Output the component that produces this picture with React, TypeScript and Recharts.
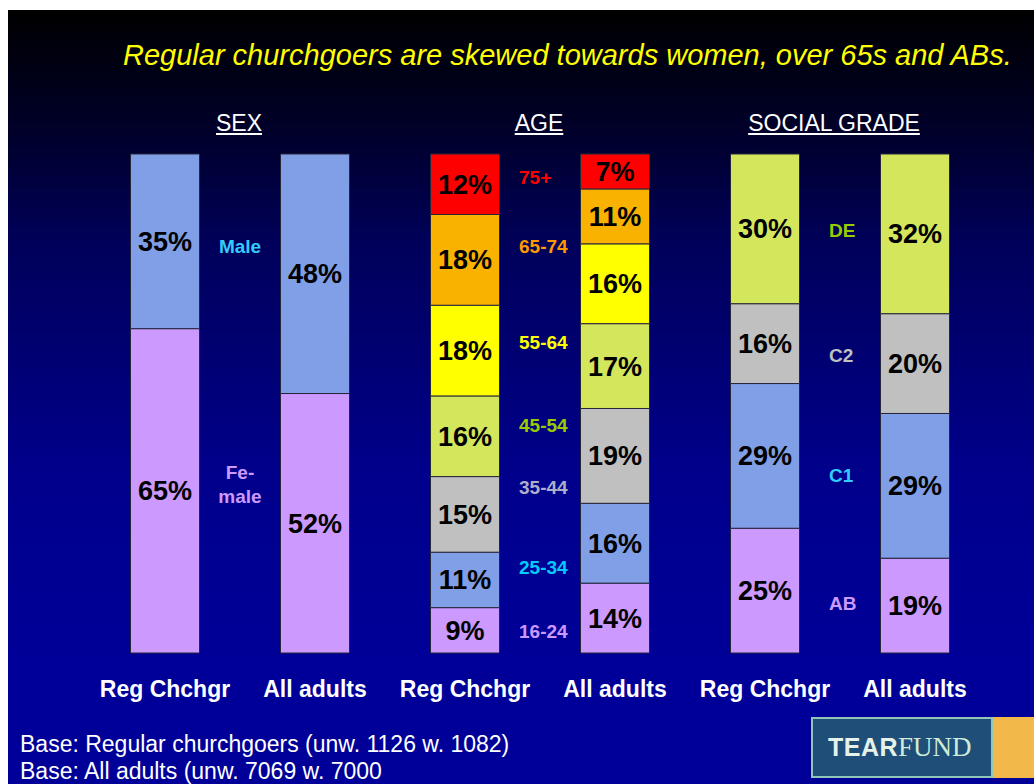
import { BarChart, Bar, XAxis, YAxis, LabelList, ReferenceDot } from "recharts";

// bar order on the axis (mid = label column between the two bars, gap = empty)
const categories = [
  "sexReg", "sexMid", "sexAll", "gapA",
  "ageReg", "ageMid", "ageAll", "gapB",
  "socReg", "socMid", "socAll",
];
const tickNames: Record<string, string> = {
  sexReg: "Reg Chchgr", sexAll: "All adults",
  ageReg: "Reg Chchgr", ageAll: "All adults",
  socReg: "Reg Chchgr", socAll: "All adults",
};

// segment values, bottom to top
const sexReg = [65, 35];
const sexAll = [52, 48];
const ageReg = [9, 11, 15, 16, 18, 18, 12];
const ageAll = [14, 16, 19, 17, 16, 11, 7];
const socReg = [25, 29, 16, 30];
const socAll = [19, 29, 20, 32];

// segment names shown between the bars, and where they sit (share of bar height)
const sexLabels = ["Fe-\nmale", "Male"];
const sexLabelAt = [0.337, 0.814];
const ageLabels = ["16-24", "25-34", "35-44", "45-54", "55-64", "65-74", "75+"];
const ageLabelAt = [0.043, 0.172, 0.331, 0.457, 0.623, 0.814, 0.954];
const socLabels = ["AB", "C1", "C2", "DE"];
const socLabelAt = [0.1, 0.357, 0.597, 0.846];

const segKeys = ["s1", "s2", "s3", "s4", "s5", "s6", "s7"];
const segFills = ["#CC99FF", "#809FE6", "#C0C0C0", "#D4E65C", "#FFFF00", "#F9B200", "#FF0000"];
const sexLabelColors = ["#CC99FF", "#33CCFF"];
const ageLabelColors = ["#CC99FF", "#00CCFF", "#AEAEC8", "#99CC00", "#FFFF00", "#FF9900", "#FF0000"];
const socLabelColors = ["#CC99FF", "#33CCFF", "#C0C0C0", "#99CC00"];

const barValues: Record<string, number[]> = { sexReg, sexAll, ageReg, ageAll, socReg, socAll };

const rows = categories.map((id) => {
  const row: Record<string, any> = { id };
  (barValues[id] ?? []).forEach((v, i) => {
    row[segKeys[i]] = v;
  });
  return row;
});

const midLabels = [
  ...sexLabels.map((t, i) => ({ x: "sexMid", y: sexLabelAt[i], text: t, color: sexLabelColors[i], anchor: "middle", dx: 0 })),
  ...ageLabels.map((t, i) => ({ x: "ageMid", y: ageLabelAt[i], text: t, color: ageLabelColors[i], anchor: "start", dx: -21 })),
  ...socLabels.map((t, i) => ({ x: "socMid", y: socLabelAt[i], text: t, color: socLabelColors[i], anchor: "start", dx: -11 })),
];

const FONT = "'Liberation Sans', Arial, sans-serif";

function CatTick(props: any) {
  const { x, y, payload } = props;
  const name = tickNames[payload.value];
  if (!name) return <g />;
  return (
    <text x={x} y={y + 44} textAnchor="middle" fill="#fff" fontSize={23} fontWeight="bold">
      {name}
    </text>
  );
}

function MidText({ cx, cy, text, color, anchor, dx }: any) {
  const lines = text.split("\n");
  const lh = 24;
  const top = cy - ((lines.length - 1) * lh) / 2;
  return (
    <text textAnchor={anchor} fill={color} fontSize={19} fontWeight="bold">
      {lines.map((l: string, i: number) => (
        <tspan key={i} x={cx + dx} y={top + i * lh} dy="0.35em">
          {l}
        </tspan>
      ))}
    </text>
  );
}

const groupTitles = [
  { text: "SEX", x: 239 },
  { text: "AGE", x: 539 },
  { text: "SOCIAL GRADE", x: 834 },
];

export default function App() {
  return (
    <div style={{ position: "absolute", left: 0, top: 0, width: 1034, height: 784, background: "#fff", overflow: "hidden", fontFamily: FONT }}>
      <div
        style={{
          position: "absolute", left: 8, top: 10, right: 0, bottom: 0,
          background: "linear-gradient(to bottom, #000000 0%, #00002E 17%, #00005A 30%, #00008C 60%, #000099 85%, #000099 100%)",
        }}
      />
      <div style={{ position: "absolute", left: 123, top: 39, lineHeight: "32px", fontSize: 29, fontStyle: "italic", color: "#FFFF00", whiteSpace: "nowrap" }}>
        Regular churchgoers are skewed towards women, over 65s and ABs.
      </div>
      {groupTitles.map((g) => (
        <div key={g.text} style={{ position: "absolute", left: g.x, top: 110, transform: "translateX(-50%)", lineHeight: "26px", fontSize: 23, color: "#fff", textDecoration: "underline", whiteSpace: "nowrap" }}>
          {g.text}
        </div>
      ))}
      <div style={{ position: "absolute", left: 0, top: 0 }}>
        <BarChart
          width={1034}
          height={784}
          data={rows}
          stackOffset="expand"
          barSize={69}
          margin={{ top: 154, right: 81.5, bottom: 101, left: 127.5 }}
        >
          <XAxis dataKey="id" height={30} axisLine={false} tickLine={false} tickSize={0} tickMargin={0} interval={0} tick={<CatTick />} />
          <YAxis hide type="number" domain={[0, 1]} />
          {segKeys.map((k, i) => (
            <Bar key={k} dataKey={k} stackId="a" fill={segFills[i]} stroke="#26263A" strokeWidth={1} isAnimationActive={false}>
              <LabelList
                dataKey={k}
                position="center"
                formatter={(v: any) => (v == null ? "" : `${v}%`)}
                fill="#000"
                fontSize={27}
                fontWeight="bold"
              />
            </Bar>
          ))}
          {midLabels.map((m) => (
            <ReferenceDot
              key={m.x + m.text}
              x={m.x}
              y={m.y}
              r={0}
              ifOverflow="visible"
              shape={(p: any) => <MidText cx={p.cx} cy={p.cy} text={m.text} color={m.color} anchor={m.anchor} dx={m.dx} />}
            />
          ))}
        </BarChart>
      </div>
      <div style={{ position: "absolute", left: 20, top: 731, lineHeight: "27px", fontSize: 23, color: "#fff", whiteSpace: "nowrap" }}>
        <div>Base: Regular churchgoers (unw. 1126 w. 1082)</div>
        <div>Base: All adults (unw. 7069 w. 7000</div>
      </div>
      <div style={{ position: "absolute", left: 811, top: 717, width: 240, height: 61, display: "flex" }}>
        <div style={{ width: 163, height: 57, background: "#1F4E79", border: "2px solid #8FC6B8", display: "flex", alignItems: "center", paddingLeft: 15, boxSizing: "content-box" }}>
          <span style={{ fontWeight: "bold", fontSize: 25, color: "#E6F2E8", letterSpacing: 0.5 }}>TEAR</span>
          <span style={{ fontFamily: "'Liberation Serif', serif", fontSize: 27, color: "#CDEBD8" }}>FUND</span>
        </div>
        <div style={{ flex: 1, height: 61, background: "#F2B84A" }} />
      </div>
    </div>
  );
}
